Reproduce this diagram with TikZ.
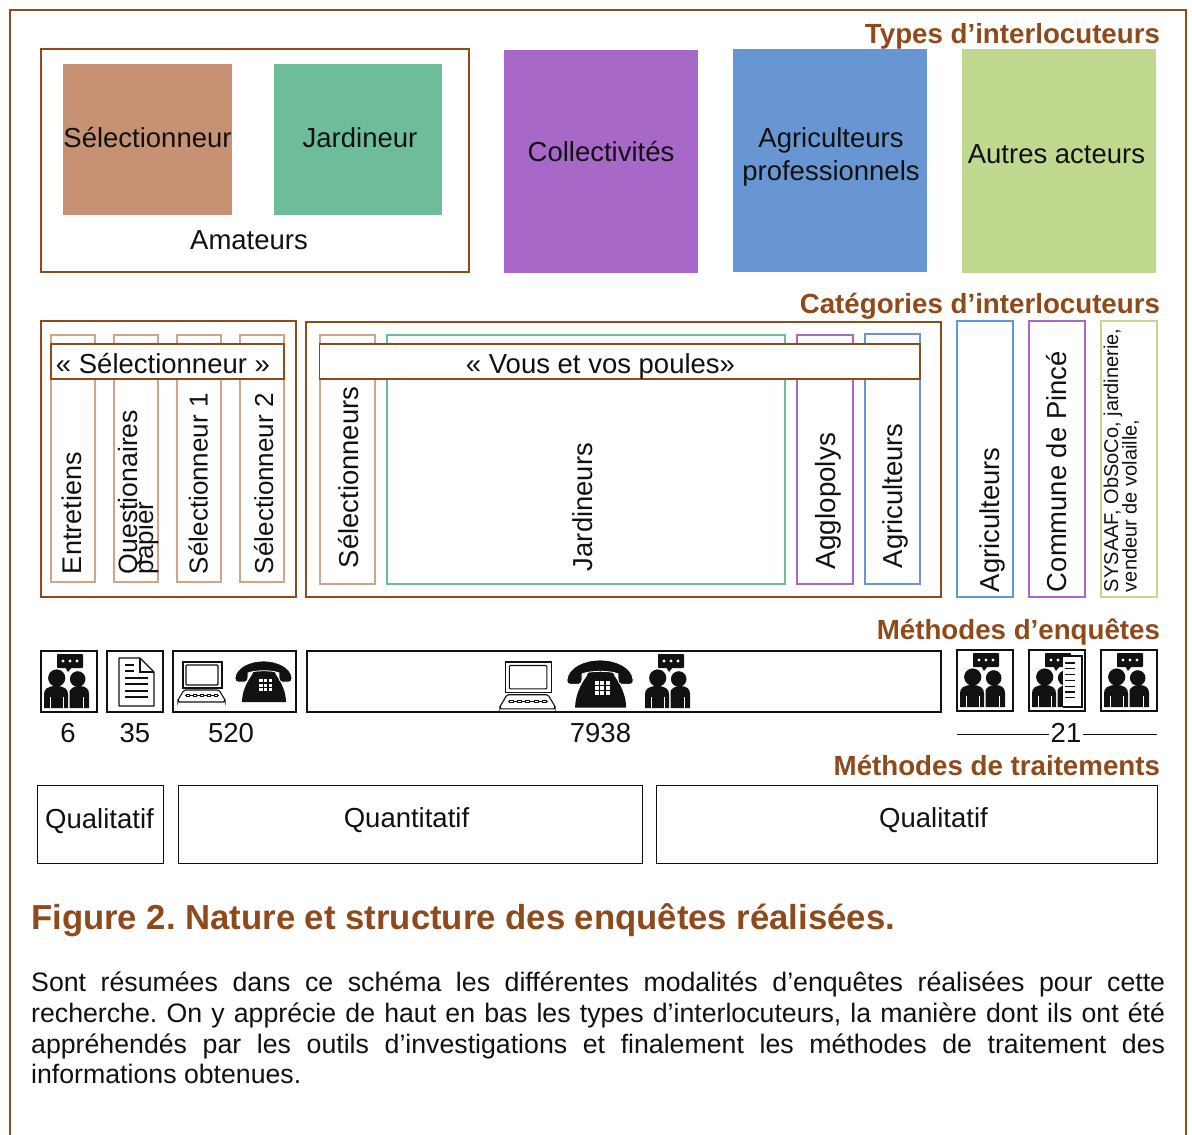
\documentclass[tikz,border=0pt]{standalone}
\usepackage{fontspec}
\setmainfont{Liberation Sans}
\definecolor{brn}{HTML}{8F4A1B}
\definecolor{lbrn}{HTML}{D3A48A}
\definecolor{fbrn}{HTML}{C69273}
\definecolor{fgrn}{HTML}{6DBD9B}
\definecolor{fpur}{HTML}{A868C8}
\definecolor{fblu}{HTML}{6896D3}
\definecolor{fyel}{HTML}{C1D88F}
\definecolor{ink}{HTML}{111111}
\newcommand\dgbox[6]{%
  \pgfmathsetlengthmacro\dgw{#5-#3}\pgfmathsetlengthmacro\dgh{#6-#4}%
  \node[#1,anchor=north west,minimum width=\dgw,minimum height=\dgh,inner sep=0pt,outer sep=0pt] (#2) at (#3,#4) {};}
\tikzset{
  x=1pt,y=-1pt,
  lbl/.style={anchor=base,inner sep=0pt,outer sep=0pt,text=ink,font=\fontsize{27.5}{28}\selectfont},
  vert/.style={rotate=90,anchor=base west,inner sep=0pt,outer sep=0pt,text=ink,font=\fontsize{27.4}{28}\selectfont},
  vsmall/.style={vert,font=\fontsize{20}{20}\selectfont},
  head/.style={anchor=base east,inner sep=0pt,outer sep=0pt,text=brn,font=\bfseries\fontsize{27.7}{28}\selectfont},
  panel/.style={draw=brn,line width=1.8pt},
  solid box/.style={fill=#1},
  col/.style={draw=#1,fill=white,line width=1.4pt},
  band/.style={draw=brn,fill=white,line width=1.3pt},
  iconbox/.style={draw=ink,line width=1.3pt,fill=white},
  methbox/.style={draw=ink,line width=1pt,fill=white},
  people/.pic={
    \fill[ink,rounded corners=0.8pt] (16,3) rectangle (42,17);
    \fill[ink] (24,16) -- (27,21) -- (31,16) -- cycle;
    \fill[white] (22,10) circle (1.7) (29,10) circle (1.7) (36,10) circle (1.7);
    \fill[ink] (15.7,27) circle (8.6);
    \fill[ink] (36.7,28) circle (7.8);
    \fill[ink] (3,57) -- (3,43) .. controls (3,38) and (7,35) .. (15,35) .. controls (23,35) and (27,38) .. (27,43) -- (27,57) -- cycle;
    \fill[ink] (28.5,57) -- (28.5,40) .. controls (30,37) and (34,35) .. (38,35) .. controls (45,35) and (48,38) .. (48,43) -- (48,57) -- cycle;
    \draw[white,line width=1pt] (9,46) -- (9,57) (22,46) -- (22,57) (42,46) -- (42,57);
  },
  sheet/.pic={
    \draw[ink,line width=1.1pt,fill=white,line join=round] (0,0) -- (21,0) -- (35,14) -- (35,48) -- (0,48) -- cycle;
    \draw[ink,line width=1.1pt] (21,0) -- (21,14) -- (35,14);
    \draw[ink,line width=1.2pt] (6,7) -- (15,7) (6,13) -- (15,13) (6,20) -- (29,20) (6,26) -- (29,26) (6,33) -- (29,33) (6,39) -- (29,39);
  },
  laptop/.pic={
    \draw[ink,line width=1.2pt,fill=white] (5,0) rectangle (44,26);
    \draw[ink,line width=1.1pt,rounded corners=1pt] (8,3) rectangle (40,23);
    \draw[ink,line width=1.1pt,fill=white,rounded corners=1.5pt] (6,28) -- (41,28) -- (47,38) -- (47,40) -- (0,40) -- (0,38) -- cycle;
    \draw[ink,line width=0.8pt] (7,33.5) -- (41,33.5);
    \foreach \k in {8,15,22,29,36}{\draw[ink,line width=0.7pt,fill=white] (\k,32.5) rectangle (\k+3.5,34.5);}
  },
  phone/.pic={
    \fill[ink] (17,14) -- (19,9) -- (39,9) -- (41,14) .. controls (47,22) and (51,32) .. (51,41) -- (7,41) .. controls (7,32) and (11,22) .. (17,14) -- cycle;
    \filldraw[ink,draw=white,line width=0.8pt] (0,17) .. controls (1,6) and (15,0) .. (28.5,0) .. controls (42,0) and (56,6) .. (57,17) .. controls (57,20) and (56,21) .. (54,21) -- (47,21) .. controls (45,21) and (44,19) .. (44,15) -- (44,12) .. controls (38,9) and (20,9) .. (13,12) -- (13,15) .. controls (13,19) and (12,21) .. (10,21) -- (3,21) .. controls (1,21) and (0,20) .. (0,17) -- cycle;
    \foreach \a in {24,28.8,33.6}{\foreach \b in {18,22.5,27}{\fill[white] (\a,\b) rectangle +(3.5,3.2);}}
  },
}
\begin{document}
\frenchspacing
\begin{tikzpicture}
\useasboundingbox (0,0) rectangle (1192,1135);
\fill[white] (0,0) rectangle (1192,1135);
% outer frame, open at the bottom
\draw[brn,line width=2pt] (10,1135) -- (10,9.5) -- (1186,9.5) -- (1186,1135);

% ---- Types
\node[head] (h1) at (1160,43) {Types d’interlocuteurs};
\dgbox{panel}{amat}{41}{49}{469}{272}
\dgbox{solid box=fbrn}{sel}{63}{64}{231.5}{215}
\dgbox{solid box=fgrn}{jar}{274}{64}{442}{215}
\dgbox{solid box=fpur}{coll}{504}{50}{698}{273}
\dgbox{solid box=fblu}{agr}{733}{49}{927}{272}
\dgbox{solid box=fyel}{aut}{962}{49}{1156}{273}
\node[lbl] (t1) at (147.5,147) {Sélectionneur};
\node[lbl] (t2) at (360,147) {Jardineur};
\node[lbl] (t3) at (249,249) {Amateurs};
\node[lbl] (t4) at (601,161) {Collectivités};
\node[lbl] (t5) at (831,147) {Agriculteurs};
\node[lbl] (t6) at (831,180) {professionnels};
\node[lbl] (t7) at (1056.5,163) {Autres acteurs};

% ---- Categories
\node[head] (h2) at (1160,313) {Catégories d’interlocuteurs};
\dgbox{panel}{pa}{41}{321}{296}{597}
\dgbox{panel}{pb}{306}{322}{941}{597}
\dgbox{col=lbrn}{c1}{51}{335}{95}{582}
\dgbox{col=lbrn}{c2}{114}{335}{158}{582}
\dgbox{col=lbrn}{c3}{177}{335}{221}{582}
\dgbox{col=lbrn}{c4}{240}{335}{284}{582}
\dgbox{col=lbrn}{c5}{320}{335}{375}{584}
\dgbox{col=fgrn}{c6}{387}{335}{785}{584}
\dgbox{col=fpur}{c7}{797}{335}{853}{584}
\dgbox{col=fblu}{c8}{865}{334}{920}{584}
\dgbox{col=fblu}{c9}{957}{321}{1013}{597}
\dgbox{col=fpur}{c10}{1029}{321}{1085}{597}
\dgbox{col=fyel}{c11}{1101}{321}{1157}{597}
\dgbox{band}{b1}{51}{344}{284}{379}
\dgbox{band}{b2}{319.5}{344}{920}{379}
\node[lbl] (t8) at (163,373) {« Sélectionneur »};
\node[lbl] (t9) at (600.5,373) {« Vous et vos poules»};
\node[vert,font=\fontsize{27}{28}\selectfont] (v1) at (81.5,574) {Entretiens};
\node[vert,font=\fontsize{26.6}{28}\selectfont] (v2) at (137,574) {Questionaires};
\node[vert,font=\fontsize{26}{26}\selectfont] (v3) at (153,574) {papier};
\node[vert,font=\fontsize{26}{26}\selectfont] (v4) at (207.5,574) {Sélectionneur 1};
\node[vert,font=\fontsize{26}{26}\selectfont] (v5) at (273,574) {Sélectionneur 2};
\node[vert] (v6) at (358,568) {Sélectionneurs};
\node[vert] (v7) at (592.5,571) {Jardineurs};
\node[vert,font=\fontsize{27.8}{28}\selectfont] (v8) at (835,569) {Agglopolys};
\node[vert] (v9) at (902.5,568) {Agriculteurs};
\node[vert] (v10) at (999,592) {Agriculteurs};
\node[vert] (v11) at (1066.5,592) {Commune de Pincé};
\node[vsmall] (v12) at (1118,592) {SYSAAF, ObSoCo, jardinerie,};
\node[vsmall] (v13) at (1136.5,592) {vendeur de volaille,};

% ---- Methods
\node[head] (h3) at (1160,639) {Méthodes d’enquêtes};
\dgbox{iconbox}{i1}{41}{651}{97}{712}
\dgbox{iconbox}{i2}{107}{651}{163}{712}
\dgbox{iconbox}{i3}{173}{651}{296}{712}
\dgbox{iconbox}{i4}{307}{651}{941}{712}
\dgbox{iconbox}{i5}{957}{650}{1013}{711}
\dgbox{iconbox}{i6}{1029}{650}{1085}{711}
\dgbox{iconbox}{i7}{1101}{650}{1157}{711}
\pic at (41,651) {people};
\pic at (119,658) {sheet};
\pic at (178,662) {laptop};
\pic at (235,661) {phone};
\pic[scale=1.17] at (500,662) {laptop};
\pic[scale=1.16] at (567,660) {phone};
\pic at (642,651) {people};
\pic at (957,650) {people};
\pic at (1029,650) {people};
\pic at (1101,650) {people};
\fill[white] (1063,656) rectangle (1082,707);
\draw[ink,line width=1.3pt] (1063,656) -- (1082,656) -- (1082,707) -- (1063,707);
\foreach \k in {0,...,6}{\draw[ink,line width=1.2pt] (1065,663+\k*5.8) -- (1075,663+\k*5.8);}
\node[lbl] (n1) at (68,742) {6};
\node[lbl] (n2) at (135,742) {35};
\node[lbl] (n3) at (231,742) {520};
\node[lbl] (n4) at (600.5,742) {7938};
\node[lbl,inner xsep=1.5pt] (n5) at (1066,742) {21};
\coordinate (la) at (957,734);
\coordinate (lb) at (1157,734);
\draw[ink,line width=1pt] (la) -- (la -| n5.west);
\draw[ink,line width=1pt] (lb -| n5.east) -- (lb);

% ---- Treatment
\node[head] (h4) at (1160,775) {Méthodes de traitements};
\dgbox{methbox}{m1}{37.5}{785}{163}{863}
\dgbox{methbox}{m2}{178}{785}{642}{863}
\dgbox{methbox}{m3}{656}{785}{1157}{863}
\node[lbl] (q1) at (99.5,828) {Qualitatif};
\node[lbl] (q2) at (406.5,827) {Quantitatif};
\node[lbl] (q3) at (933.5,827) {Qualitatif};

% ---- Caption
\node[anchor=base west,inner sep=0pt,text=brn,font=\bfseries\fontsize{34.7}{36}\selectfont] (cap) at (31,929) {Figure 2. Nature et structure des enquêtes réalisées.};
\node[anchor=north west,inner sep=0pt,text=ink,text width=1134pt,align=justify,font=\fontsize{26.7}{30.6}\selectfont] (body) at (31,972) {Sont résumées dans ce schéma les différentes modalités d’enquêtes réalisées pour cette\linebreak recherche. On y apprécie de haut en bas les types d’interlocuteurs, la manière dont ils ont été\linebreak appréhendés par les outils d’investigations et finalement les méthodes de traitement des\linebreak informations obtenues.};
\end{tikzpicture}
\end{document}
